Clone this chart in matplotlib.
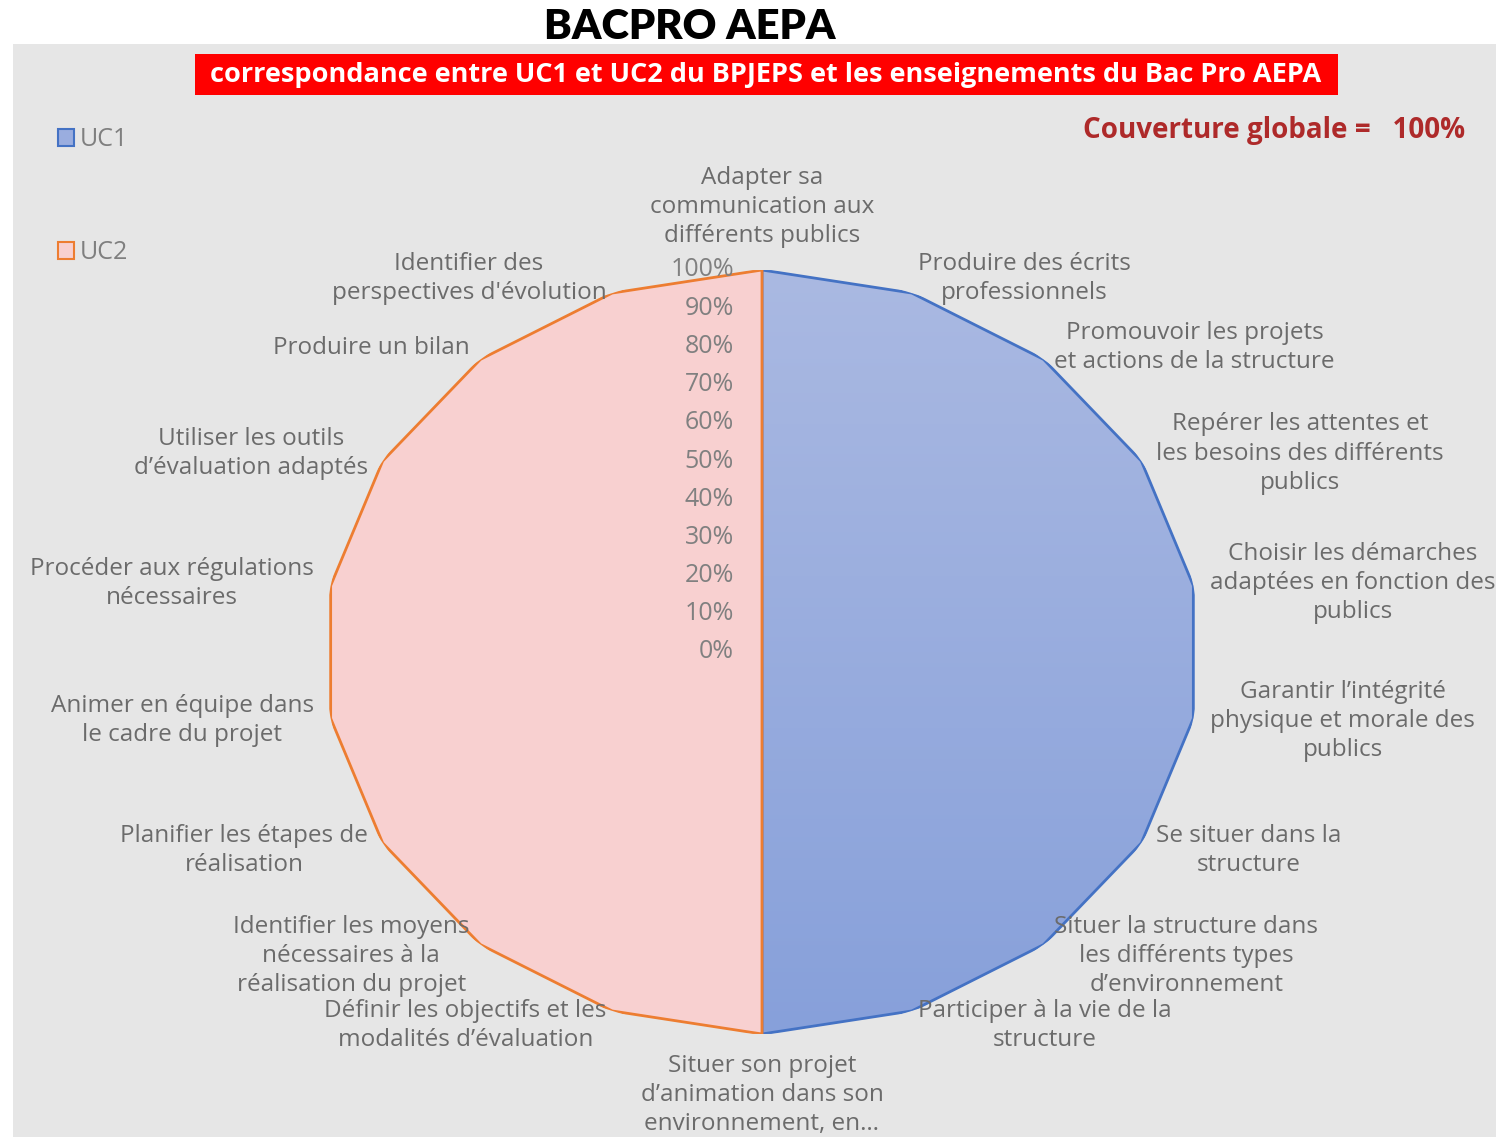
import numpy as np
import matplotlib
matplotlib.use('Agg')
import matplotlib.pyplot as plt
import matplotlib.patches as mpatches
from matplotlib.colors import LinearSegmentedColormap

# Data
categories = [
    "Adapter sa\ncommunication aux\ndifférents publics",
    "Produire des écrits\nprofessionnels",
    "Promouvoir les projets\net actions de la structure",
    "Repérer les attentes et\nles besoins des différents\npublics",
    "Choisir les démarches\nadaptées en fonction des\npublics",
    "Garantir l’intégrité\nphysique et morale des\npublics",
    "Se situer dans la\nstructure",
    "Situer la structure dans\nles différents types\nd’environnement",
    "Participer à la vie de la\nstructure",
    "Situer son projet\nd’animation dans son\nenvironnement, en…",
    "Définir les objectifs et les\nmodalités d’évaluation",
    "Identifier les moyens\nnécessaires à la\nréalisation du projet",
    "Planifier les étapes de\nréalisation",
    "Animer en équipe dans\nle cadre du projet",
    "Procéder aux régulations\nnécessaires",
    "Utiliser les outils\nd’évaluation adaptés",
    "Produire un bilan",
    "Identifier des\nperspectives d'évolution",
]
uc1 = [1, 1, 1, 1, 1, 1, 1, 1, 1, 1, 0, 0, 0, 0, 0, 0, 0, 0]
uc2 = [1, 0, 0, 0, 0, 0, 0, 0, 0, 1, 1, 1, 1, 1, 1, 1, 1, 1]
r_ticks = [0.0, 0.1, 0.2, 0.3, 0.4, 0.5, 0.6, 0.7, 0.8, 0.9, 1.0]
series_names = ["UC1", "UC2"]
title = "BACPRO AEPA"
subtitle = "correspondance entre UC1 et UC2 du BPJEPS et les enseignements du Bac Pro AEPA"
coverage = "Couverture globale =   100%"

plt.rcParams['font.family'] = ['Open Sans', 'DejaVu Sans']

W, H = 1496, 1137
fig = plt.figure(figsize=(W / 100, H / 100), dpi=100)
fig.patch.set_facecolor('white')

# grey chart area
fig.patches.append(mpatches.Rectangle((13 / W, 0), (W - 13) / W, 1 - 44 / H,
                                      transform=fig.transFigure, facecolor='#e6e6e6',
                                      edgecolor='none', zorder=0))
# red banner
fig.patches.append(mpatches.Rectangle((195 / W, 1 - 95 / H), (1338 - 195) / W, 41 / H,
                                      transform=fig.transFigure, facecolor='#ff0000',
                                      edgecolor='none', zorder=1))

fig.text(690 / W, 1 - 27 / H, title, ha='center', va='center', fontsize=30,
         fontweight='heavy', family=['Lato', 'DejaVu Sans'], color='black')
fig.text(766 / W, 1 - 74.5 / H, subtitle, ha='center', va='center', fontsize=19.5,
         fontweight='bold', color='white', zorder=3)
fig.text(1465 / W, 1 - 130 / H, coverage, ha='right', va='center', fontsize=20,
         fontweight='bold', color='#ae2a2a')

# axes geometry (ellipse, Excel-like stretched radar)
cx, cy, rx, ry = 762, 652, 438, 382
rect = [(cx - rx) / W, (H - cy - ry) / H, 2 * rx / W, 2 * ry / H]

gax = fig.add_axes(rect, zorder=1)
gax.set_axis_off()
ax = fig.add_axes(rect, projection='polar', zorder=2)
ax.set_aspect('auto')
ax.patch.set_alpha(0)
ax.set_theta_offset(np.pi / 2)
ax.set_theta_direction(-1)

n = len(categories)
angles = np.linspace(0, 2 * np.pi, n, endpoint=False)
a_closed = np.append(angles, angles[0])

v1 = np.append(uc1, uc1[0])
v2 = np.append(uc2, uc2[0])
poly1 = ax.fill(a_closed, v1, facecolor='none', edgecolor='#4472c4', linewidth=2)[0]
ax.fill(a_closed, v2, facecolor='#f8d0d0', edgecolor='#ed7d31', linewidth=2)

# gradient inside UC1
cmap = LinearSegmentedColormap.from_list('uc1', ['#aab9e2', '#87a0da'])
im = gax.imshow(np.linspace(0, 1, 256).reshape(-1, 1), cmap=cmap, aspect='auto',
                extent=[0, 1, 0, 1])
gax.set_xlim(0, 1)
gax.set_ylim(0, 1)
im.set_clip_path(poly1)

ax.set_ylim(0, 1)
ax.set_xticks([])
ax.set_yticks([])
ax.grid(False)
ax.spines['polar'].set_visible(False)

# radial tick labels
for r in r_ticks:
    ax.annotate(f"{int(round(r * 100))}%", xy=(0, r), xytext=(-28, 0),
                textcoords='offset pixels', ha='right', va='center',
                fontsize=18, color='#808080')

# category labels
for ang, lab in zip(angles, categories):
    s, c = np.sin(ang), np.cos(ang)
    if abs(s) < 0.05:
        ha = 'center'
        va = 'bottom' if c > 0 else 'top'
        off = (0, 22 if c > 0 else -20)
    else:
        ha = 'left' if s > 0 else 'right'
        va = 'center'
        off = (17 * s, 15 * c)
    ax.annotate(lab, xy=(ang, 1.0), xytext=off, textcoords='offset pixels',
                ha=ha, va=va, multialignment='center', fontsize=17.5,
                color='#6b6b6b', linespacing=1.28, annotation_clip=False)

handles = [mpatches.Patch(facecolor='#9aaddf', edgecolor='#4472c4', linewidth=1.5),
           mpatches.Patch(facecolor='#f8d0d0', edgecolor='#ed7d31', linewidth=1.5)]
fig.legend(handles, series_names, loc='upper left', bbox_to_anchor=(45 / W, 1 - 115 / H),
           frameon=False, fontsize=18, labelcolor='#7f7f7f', handlelength=0.65,
           handleheight=0.65, handletextpad=0.25, labelspacing=3.5, borderpad=0)

fig.savefig('out.png', dpi=100)
